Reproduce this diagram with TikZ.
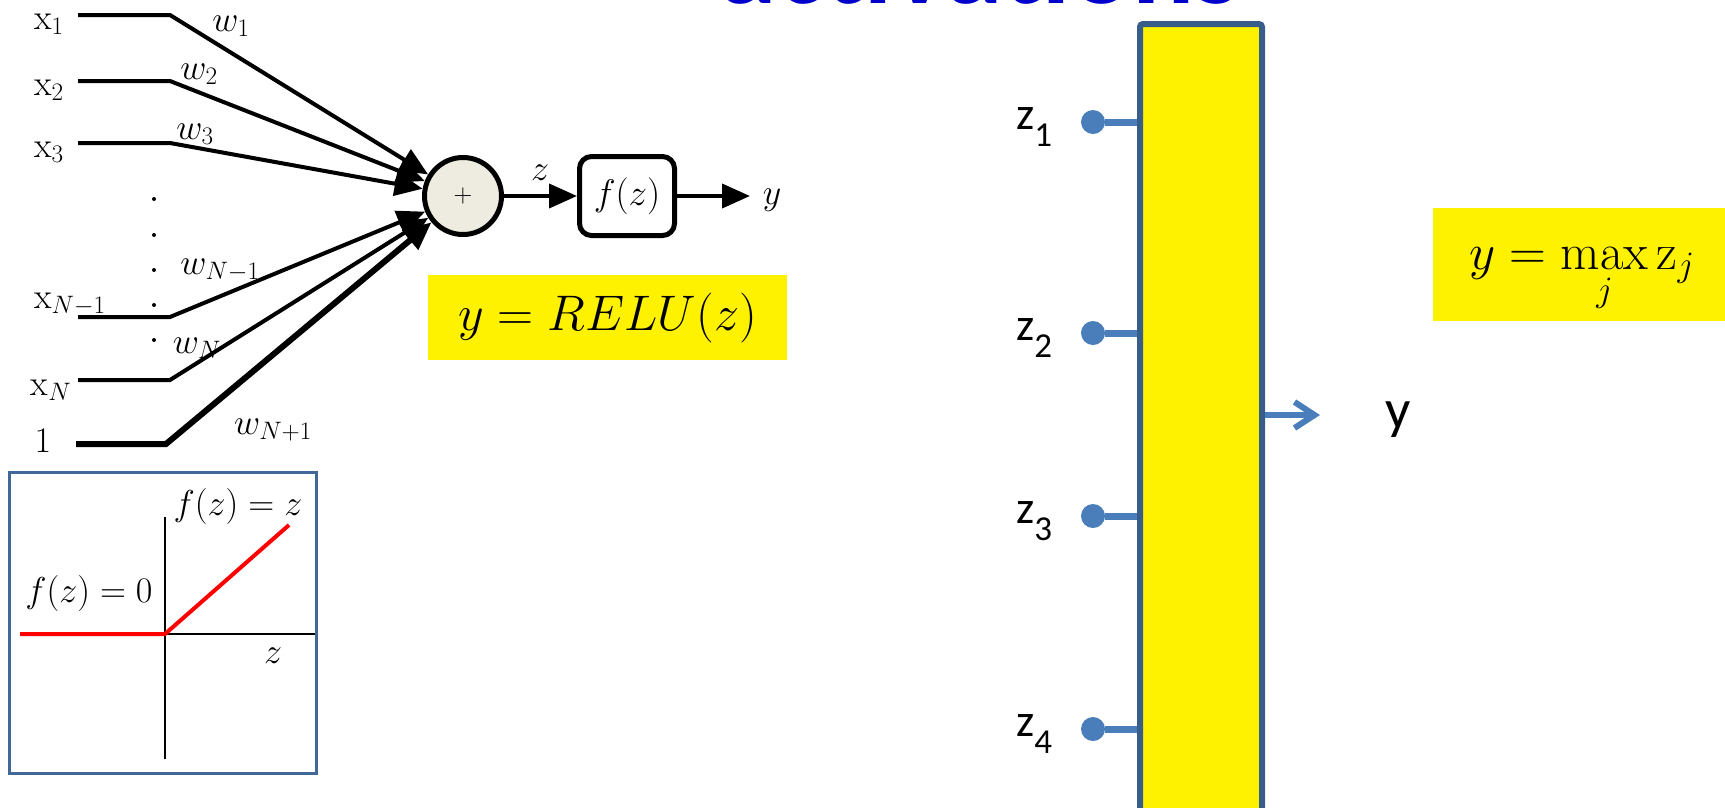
\documentclass[tikz,border=0pt]{standalone}
\usepackage{fix-cm}
\usepackage{amsmath,amssymb}
\usepackage{fontspec}
\newfontfamily\calfont{Carlito}
\usepackage{tikz}
\usetikzlibrary{arrows.meta,positioning,calc}
\definecolor{sumfill}{RGB}{238,236,225}
\definecolor{frameblue}{RGB}{65,104,150}
\definecolor{barblue}{RGB}{56,93,138}
\definecolor{pinblue}{RGB}{74,126,187}
\definecolor{titleblue}{RGB}{0,0,204}

\begin{document}
\begin{tikzpicture}[x=1pt,y=-1pt,
  lbl/.style={inner sep=0pt,font=\fontsize{36}{40}\selectfont},
  wire/.style={line width=4pt,line join=miter},
  inarrow/.style={wire,-{Triangle[length=28pt,width=24pt]}},
  sumnode/.style={circle,draw,line width=5pt,fill=sumfill,minimum size=77pt,inner sep=0pt},
  actbox/.style={draw,line width=5pt,rounded corners=12pt,minimum width=95pt,minimum height=79pt,inner sep=0pt},
  hilite/.style={fill=yellow,inner sep=0pt},
  dot/.style={circle,fill=black,inner sep=0pt,minimum size=4pt},
  pin/.style={circle,fill=pinblue,inner sep=0pt,minimum size=24pt},
  pinwire/.style={pinblue,line width=7pt},
  zlbl/.style={anchor=base west,inner sep=0pt,font=\calfont\fontsize{46}{50}\selectfont}]
\useasboundingbox (0,0) rectangle (1725,807);
\clip (0,0) rectangle (1725,807);
% title, cut at the top
\node[anchor=base,inner sep=0pt,text=titleblue,font=\calfont\bfseries\fontsize{116}{116}\selectfont] (title) at (980,3) {activations};
% neuron
\coordinate (s1) at (78,15);   \coordinate (c1) at (170,15);
\coordinate (s2) at (78,81);   \coordinate (c2) at (170,81);
\coordinate (s3) at (78,143);  \coordinate (c3) at (170,143);
\coordinate (s4) at (78,317);  \coordinate (c4) at (170,317);
\coordinate (s5) at (78,380);  \coordinate (c5) at (170,380);
\coordinate (s6) at (76,444);  \coordinate (c6) at (166,444);
\node[sumnode] (sum) at (463,196) {\fontsize{26}{26}\selectfont +};
\draw[inarrow] (s1) -- (c1) -- (sum);
\draw[inarrow] (s2) -- (c2) -- (sum);
\draw[inarrow] (s3) -- (c3) -- (sum);
\draw[inarrow] (s4) -- (c4) -- (sum);
\draw[inarrow] (s5) -- (c5) -- (sum);
\draw[inarrow,line width=6pt] (s6) -- (c6) -- (sum);
\node[lbl,anchor=base] (x1) at (49,29) {$\mathrm{x}_1$};
\node[lbl,anchor=base] (x2) at (49,95) {$\mathrm{x}_2$};
\node[lbl,anchor=base] (x3) at (49,157) {$\mathrm{x}_3$};
\node[lbl,anchor=base] (x4) at (70,308) {$\mathrm{x}_{N-1}$};
\node[lbl,anchor=base] (x5) at (51,395) {$\mathrm{x}_N$};
\node[lbl,anchor=base] (x6) at (43,452) {$1$};
\node[lbl,anchor=base] (w1) at (231,31) {$w_1$};
\node[lbl,anchor=base] (w2) at (199,79) {$w_2$};
\node[lbl,anchor=base] (w3) at (195,139) {$w_3$};
\node[lbl,anchor=base] (w4) at (220,274) {$w_{N-1}$};
\node[lbl,anchor=base] (w5) at (197,353) {$w_N$};
\node[lbl,anchor=base] (w6) at (273,434) {$w_{N+1}$};
\node[dot] (d1) at (154,199) {};
\node[dot] (d2) at (154,235) {};
\node[dot] (d3) at (154,270) {};
\node[dot] (d4) at (154,305) {};
\node[dot] (d5) at (154,340) {};
\node[actbox,font=\fontsize{37}{40}\selectfont] (fbox) at (627,196) {$f(z)$};
\draw[inarrow] (sum) -- (fbox);
\node[lbl,anchor=base] (zsum) at (540,180) {$z$};
\coordinate (ytip) at (750,196);
\draw[inarrow] (fbox) -- (ytip);
\node[lbl,anchor=base] (yout) at (772,204) {$y$};
\node[hilite,minimum width=359pt,minimum height=85pt,font=\fontsize{50}{54}\selectfont] (relu) at (607.5,317.5) {$y=RELU(z)$};
% relu plot
\node[draw=frameblue,line width=2.5pt,minimum width=307pt,minimum height=301pt,inner sep=0pt] (plot) at (163,623) {};
\coordinate (o) at (165,634);
\coordinate (hl) at (20,634);
\coordinate (hr) at (315,634);
\coordinate (vt) at (165,517);
\coordinate (vb) at (165,759);
\coordinate (rt) at (289,525);
\draw[line width=2pt] (hl) -- (hr);
\draw[line width=2pt] (vt) -- (vb);
\draw[red,line width=4pt] (hl) -- (o) -- (rt);
\node[lbl,anchor=base] (fpos) at (238,515) {$f(z)=z$};
\node[lbl,anchor=base] (fneg) at (89,602) {$f(z)=0$};
\node[lbl,anchor=base] (zaxis) at (273,663) {$z$};
% max unit
\node[draw=barblue,line width=6pt,fill=yellow,rounded corners=3pt,minimum width=122pt,minimum height=806pt,inner sep=0pt] (bar) at (1201,427) {};
\node[pin] (p1) at (1093,122) {};
\node[pin] (p2) at (1093,333) {};
\node[pin] (p3) at (1093,516) {};
\node[pin] (p4) at (1093,729) {};
\draw[pinwire] (p1) -- (p1 -| bar.west);
\draw[pinwire] (p2) -- (p2 -| bar.west);
\draw[pinwire] (p3) -- (p3 -| bar.west);
\draw[pinwire] (p4) -- (p4 -| bar.west);
\node[zlbl] (z1) at (1016,129) {z\raisebox{-17pt}{\fontsize{35}{35}\selectfont 1}};
\node[zlbl] (z2) at (1016,340) {z\raisebox{-17pt}{\fontsize{35}{35}\selectfont 2}};
\node[zlbl] (z3) at (1016,523) {z\raisebox{-17pt}{\fontsize{35}{35}\selectfont 3}};
\node[zlbl] (z4) at (1016,736) {z\raisebox{-17pt}{\fontsize{35}{35}\selectfont 4}};
\coordinate (outtip) at (1320,415);
\draw[pinblue,line width=6pt,-{Straight Barb[length=20pt,width=26pt]}] (bar.east |- outtip) -- (outtip);
\node[anchor=base west,inner sep=0pt,font=\calfont\fontsize{56}{60}\selectfont] (ymax) at (1385,428) {y};
\node[hilite,minimum width=292pt,minimum height=113pt] (maxbox) at (1579,264) {};
\node[anchor=base,inner sep=0pt,font=\fontsize{51}{54}\selectfont] (maxeq) at (1582,269) {$y=\max\limits_j \mathrm{z}_j$};
\end{tikzpicture}
\end{document}
